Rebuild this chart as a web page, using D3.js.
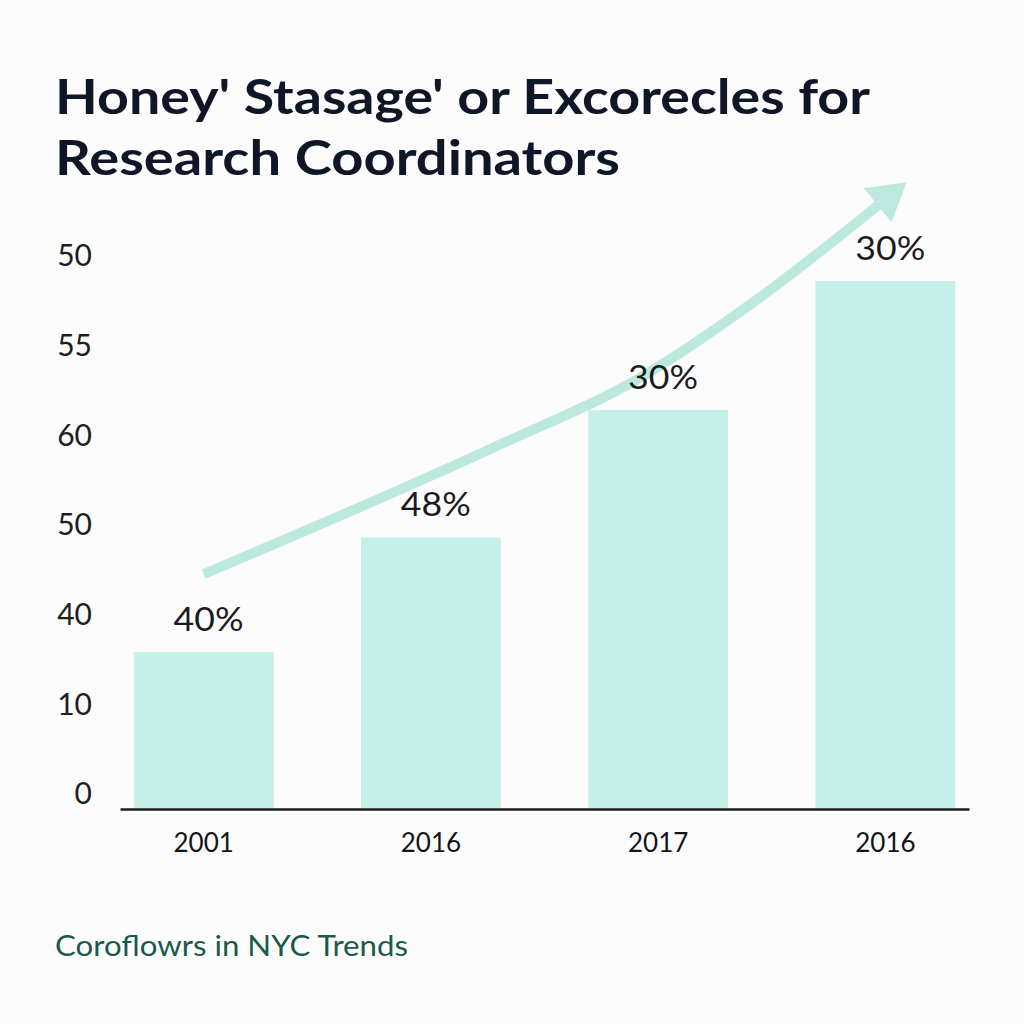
<!DOCTYPE html>
<html>
<head>
<meta charset="utf-8">
<script src="https://cdn.jsdelivr.net/npm/d3@7"></script>
<style>
  html, body { margin: 0; padding: 0; background: #fcfcfc; }
  svg { display: block; }
</style>
</head>
<body>
<svg id="chart" width="1024" height="1024"></svg>
<script>
// ---- data ----
const titleLines = ["Honey' Stasage' or Excorecles for", "Research Coordinators"];
const subtitle = "Coroflowrs in NYC Trends";
const categories = ["2001", "2016", "2017", "2016 "];
const categoryLabels = ["2001", "2016", "2017", "2016"];
const yTickLabels = ["0", "10", "40", "50", "60", "55", "50"];
const barValues = [1.57, 2.85, 4.27, 5.71];        // heights in axis-step units
const barLabels = ["40%", "48%", "30%", "30%"];
const trendX = [0.0, 1.30, 1.92, 2.45, 2.97];      // position in category units
const trendY = [2.44, 3.88, 4.63, 5.53, 6.56];     // height in axis-step units

// ---- layout ----
const svg = d3.select("#chart");
svg.append("rect").attr("width", 1024).attr("height", 1024).attr("fill", "#fcfcfc");

const x = d3.scaleBand().domain(categories).range([120, 969])
  .paddingInner(0.384).paddingOuter(0.06);
const y = d3.scaleLinear().domain([-0.18, 6]).range([809, 255]);
const xc = d3.scaleLinear().domain([0, 3])
  .range([x(categories[0]) + x.bandwidth() / 2, x(categories[3]) + x.bandwidth() / 2]);

const barColor = "#c5f0ea";
const arrowColor = "#bce9df";

// title
const title = svg.append("g");
title.selectAll("text").data(titleLines).join("text")
  .attr("x", 55)
  .attr("y", (d, i) => 114 + i * 61)
  .attr("font-family", "Lato, 'Open Sans', sans-serif")
  .attr("font-weight", 700)
  .attr("font-size", 47)
  .attr("fill", "#0e1628")
  .attr("textLength", (d, i) => i === 0 ? 815 : 565)
  .attr("lengthAdjust", "spacingAndGlyphs")
  .text(d => d);

// bars
svg.append("g").selectAll("rect").data(barValues).join("rect")
  .attr("x", (d, i) => x(categories[i]))
  .attr("width", x.bandwidth())
  .attr("y", d => y(d))
  .attr("height", d => y(-0.18) - y(d))
  .attr("fill", barColor);

// trend arrow
const defs = svg.append("defs");
defs.append("marker")
  .attr("id", "arrowhead")
  .attr("markerUnits", "userSpaceOnUse")
  .attr("viewBox", "0 -22 37 44")
  .attr("refX", 1).attr("refY", 0)
  .attr("markerWidth", 37).attr("markerHeight", 44)
  .attr("orient", "auto")
  .append("path")
  .attr("d", "M0,-22L37,0L0,22Z")
  .attr("fill", arrowColor);

const line = d3.line()
  .x((d, i) => xc(trendX[i]))
  .y((d, i) => y(trendY[i]))
  .curve(d3.curveMonotoneX);

svg.append("path")
  .datum(trendX)
  .attr("d", line)
  .attr("fill", "none")
  .attr("stroke", arrowColor)
  .attr("stroke-width", 10)
  .attr("stroke-linecap", "butt")
  .attr("marker-end", "url(#arrowhead)");

// bar value labels
svg.append("g").selectAll("text").data(barValues).join("text")
  .attr("x", (d, i) => x(categories[i]) + x.bandwidth() / 2 + 5)
  .attr("y", d => y(d) - 21)
  .attr("text-anchor", "middle")
  .attr("font-family", "Lato, 'Open Sans', sans-serif")
  .attr("font-size", 32)
  .attr("fill", "#1b1b1f")
  .attr("textLength", 70)
  .attr("lengthAdjust", "spacingAndGlyphs")
  .text((d, i) => barLabels[i]);

// y axis
const yAxis = d3.axisLeft(y)
  .tickValues(d3.range(yTickLabels.length))
  .tickFormat(i => yTickLabels[i])
  .tickSize(0).tickPadding(0);
const gy = svg.append("g").attr("transform", "translate(92,0)").call(yAxis);
gy.select(".domain").remove();
gy.selectAll("text")
  .attr("dy", "0.36em")
  .attr("font-family", "Lato, 'Open Sans', sans-serif")
  .attr("font-size", 30)
  .attr("fill", "#1e1e22");

// x axis
const xAxis = d3.axisBottom(x)
  .tickFormat((d, i) => categoryLabels[i])
  .tickSize(0).tickPadding(0);
const gx = svg.append("g").attr("transform", `translate(0,${y(-0.18)})`).call(xAxis);
gx.select(".domain")
  .attr("stroke", "#1e1e22")
  .attr("stroke-width", 2.5);
gx.selectAll("text")
  .attr("dy", "0")
  .attr("y", 43)
  .attr("font-family", "Lato, 'Open Sans', sans-serif")
  .attr("font-size", 26)
  .attr("fill", "#151518");

// subtitle
svg.append("text")
  .attr("x", 55).attr("y", 956)
  .attr("font-family", "Lato, 'Open Sans', sans-serif")
  .attr("font-size", 28)
  .attr("fill", "#1a5a4a")
  .attr("textLength", 353)
  .attr("lengthAdjust", "spacingAndGlyphs")
  .text(subtitle);
</script>
</body>
</html>
